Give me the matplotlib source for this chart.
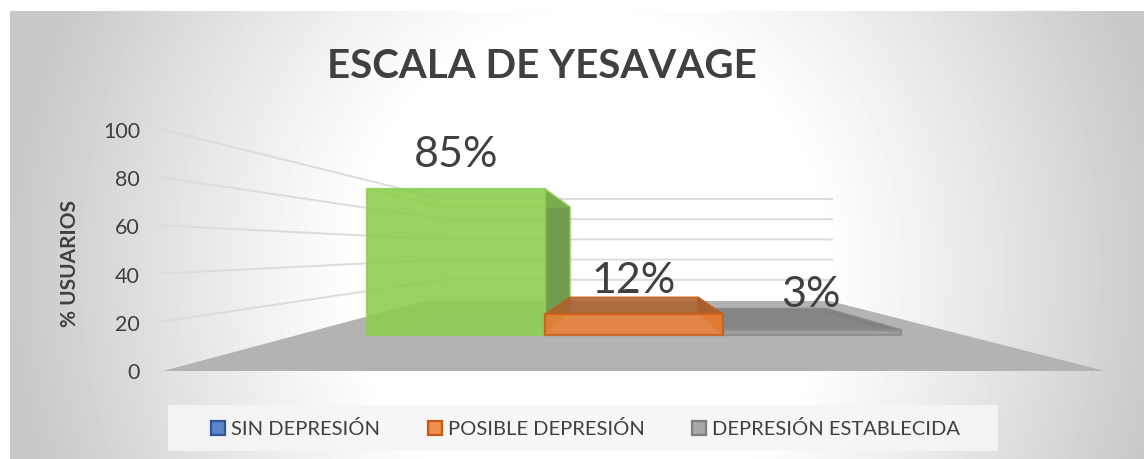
import numpy as np
import matplotlib
matplotlib.use("Agg")
import matplotlib.pyplot as plt
from matplotlib.patches import Polygon, Rectangle

categories = ["SIN DEPRESIÓN", "POSIBLE DEPRESIÓN", "DEPRESIÓN ESTABLECIDA"]
values = [85, 12, 3]
labels = ["85%", "12%", "3%"]
yticks = [0, 20, 40, 60, 80, 100]
title = "ESCALA DE YESAVAGE"
ylabel = "% USUARIOS"

plt.rcParams["font.family"] = ["Lato", "DejaVu Sans"]
text_color = "#404040"
grid_color = "#dcdcdc"

# the whole figure is one axes in pixels, the 3D look is done by hand
fig = plt.figure(figsize=(11.44, 4.6), dpi=100)
ax = fig.add_axes([0, 0, 1, 1])
ax.axis("off")

# background gradient
xx, yy = np.meshgrid(np.arange(10, 1144), np.arange(12, 460))
r = np.sqrt(((xx - 590) / 580) ** 2 + ((yy - 270) / 620) ** 2)
shade = 255 - np.clip((r - 0.4) / 0.6, 0, 1) ** 1.1 * 55
ax.imshow(shade, cmap="gray", vmin=0, vmax=255, extent=(10, 1144, 460, 12),
          aspect="auto", zorder=0)
ax.set_xlim(0, 1144)
ax.set_ylim(460, 0)


def wall_y(v):
    return 371 - v * 2.41


def back_y(v):
    return 301 - v * 1.01


def front_top(v):
    return 336 - v * 1.718


def inner_top(v):
    return 313 - v * 1.235


def poly(pts, color, alpha=1.0, edge=None, lw=1.0, z=3):
    ax.add_patch(Polygon(pts, closed=True, facecolor=color, edgecolor=edge or "none",
                         linewidth=lw, alpha=alpha, zorder=z))


# floor
poly([(163, 372), (1105, 372), (830, 302), (425, 302)], "#b3b3b3", z=1)

# gridlines on the side wall and the back wall
for v in yticks[1:]:
    ax.plot([160, 443, 832], [wall_y(v), back_y(v), back_y(v)], color=grid_color, lw=1.4, zorder=1.5)
for v in yticks:
    ax.text(140, wall_y(v) + 2, str(v), ha="right", va="center", fontsize=15.5, color=text_color)

ax.text(70, 264, ylabel, rotation=90, ha="center", va="center", fontsize=15,
        fontweight="bold", color=text_color)
ax.text(542, 66, title, ha="center", va="center", fontsize=29, fontweight="bold", color=text_color)

# bars
front_fill = ["#8ccf4d", "#ea7f33", "#9d9d9d"]
edges = ["#8fd050", "#c9601a", "#8c8c8c"]
top_fill = ["#8ccf4d", "#a9602f", "#7f7f7f"]
side_fill = ["#6f9c4f", "#b5622c", "#8f8f8f"]
front_x = [367, 545, 723, 901]
back_x = [443, 570, 698, 826]
label_xy = [(456, 155), (634, 281), (811, 295)]
# orange sits over the green side, grey goes under the orange side
bar_z = [3, 4, 2]

for i, v in enumerate(values):
    fl, fr = front_x[i], front_x[i + 1]
    bl, br = back_x[i], back_x[i + 1]
    if i == 2:
        bl = 712
    ft = front_top(v)
    bt = inner_top(v)
    z = bar_z[i]
    # inner faces, seen through the front
    poly([(bl, 313), (br, 313), (br, bt), (bl, bt)], front_fill[i], 0.25, edges[i], 1, z=z)
    poly([(fl, 336), (bl, 313), (bl, bt), (fl, ft)], front_fill[i], 0.25, edges[i], 1, z=z)
    poly([(fr, 336), (br, 313), (br, bt), (fr, ft)], side_fill[i], 1.0, edges[i], 1, z=z + 0.2)
    poly([(fl, ft), (fr, ft), (br, bt), (bl, bt)], top_fill[i], 0.85 if i else 0.3, edges[i], 1, z=z + 0.4)
    poly([(fl, 336), (fr, 336), (fr, ft), (fl, ft)], front_fill[i], 0.85, edges[i], 1.6, z=z + 0.6)
    ax.text(label_xy[i][0], label_xy[i][1], labels[i], ha="center", va="center",
            fontsize=31, color=text_color, zorder=6)

# legend
ax.add_patch(Rectangle((168, 406), 830, 46, facecolor="#f6f6f6", edgecolor="none", alpha=0.85, zorder=2))
leg_box_x = [211, 428, 692]
leg_text_x = [231, 448, 712]
leg_fill = ["#5b86c8", "#ee8f4d", "#a8a8a8"]
leg_edge = ["#2f5597", "#c55a11", "#7f7f7f"]
for i, name in enumerate(categories):
    ax.add_patch(Rectangle((leg_box_x[i], 422), 14, 14, facecolor=leg_fill[i],
                           edgecolor=leg_edge[i], linewidth=1.6, zorder=5))
    ax.text(leg_text_x[i], 429, name, ha="left", va="center", fontsize=14.5, color=text_color, zorder=5)

fig.savefig("out.png", dpi=100)
